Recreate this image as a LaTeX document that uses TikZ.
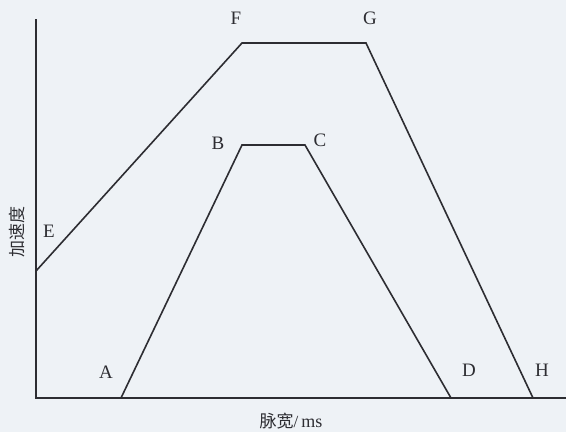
\documentclass[tikz,border=0pt]{standalone}
\usepackage{fontspec}
\setmainfont{Liberation Serif}
\newfontfamily\cjk{Noto Sans CJK SC}
\definecolor{bg}{RGB}{238,242,246}
\definecolor{ink}{RGB}{45,45,50}
\begin{document}
\begin{tikzpicture}[x=1pt,y=-1pt,
  curve/.style={draw=ink,line width=1.6pt,line join=miter},
  axisline/.style={draw=ink,line width=2pt},
  lbl/.style={font=\fontsize{19}{19}\selectfont,text=ink,inner sep=0pt},
  cjklbl/.style={font=\fontsize{17}{17}\selectfont,text=ink,inner sep=0pt}]
\fill[bg] (0,0) rectangle (566,432);
\useasboundingbox (0,0) rectangle (566,432);
% axes
\coordinate (O) at (36,398);
\coordinate (Ytop) at (36,19);
\coordinate (Xend) at (566,398);
\draw[axisline] (Ytop) -- (O) -- (Xend);
% points
\coordinate (E) at (36,271);
\coordinate (F) at (242,43);
\coordinate (G) at (366,43);
\coordinate (H) at (533,398);
\coordinate (A) at (121,398);
\coordinate (B) at (242,145);
\coordinate (C) at (305,145);
\coordinate (D) at (451,398);
\draw[curve] (E) -- (F) -- (G) -- (H);
\draw[curve] (A) -- (B) -- (C) -- (D);
% labels
\node[lbl] (lE) at (49,231) {E};
\node[lbl] (lA) at (106,372) {A};
\node[lbl] (lB) at (218,143) {B};
\node[lbl] (lC) at (320,140) {C};
\node[lbl] (lF) at (236,18) {F};
\node[lbl] (lG) at (370,18) {G};
\node[lbl] (lD) at (469,370) {D};
\node[lbl] (lH) at (542,370) {H};
\node[cjklbl,rotate=90] (ylab) at (17,232) {\cjk 加速度};
\node[cjklbl] (xlab) at (291,421) {{\cjk 脉宽}/\,{\fontsize{18}{18}\selectfont ms}};
\end{tikzpicture}
\end{document}
